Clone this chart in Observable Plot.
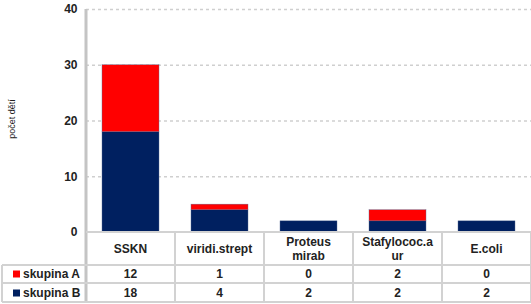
<!DOCTYPE html>
<html>
<head>
<meta charset="utf-8">
<script src="https://cdn.jsdelivr.net/npm/d3@7"></script>
<script src="https://cdn.jsdelivr.net/npm/@observablehq/plot@0.6"></script>
<style>
  html, body { margin: 0; padding: 0; background: #fff; }
  #chart { position: relative; width: 531px; height: 304px; }
</style>
</head>
<body>
<div id="chart"></div>
<script>
const categories = ["SSKN", "viridi.strept", "Proteus mirab", "Stafylococ.a ur", "E.coli"];
const headerLines = [["SSKN"], ["viridi.strept"], ["Proteus", "mirab"], ["Stafylococ.a", "ur"], ["E.coli"]];
const seriesNames = ["skupina A", "skupina B"];
const skupinaA = [12, 1, 0, 2, 0];
const skupinaB = [18, 4, 2, 2, 2];
const seriesColors = ["#ff0000", "#002060"];
const yTicks = [0, 10, 20, 30, 40];
const yLabel = "počet dětí";

// stacked: B at bottom, A on top
const data = [];
categories.forEach((c, i) => {
  data.push({cat: c, series: "skupina B", value: skupinaB[i], order: 0});
  data.push({cat: c, series: "skupina A", value: skupinaA[i], order: 1});
});

const W = 531, H = 304;
const mL = 86, mT = 9, mB = 72;
const font = "'Liberation Sans', Arial, sans-serif";

const chart = Plot.plot({
  width: W,
  height: H,
  marginLeft: mL,
  marginRight: 0,
  marginTop: mT,
  marginBottom: mB,
  style: {fontFamily: font, background: "#fff"},
  x: {domain: categories, paddingInner: 0.36, paddingOuter: 0.18, axis: null},
  y: {domain: [0, 40], ticks: yTicks, axis: null},
  color: {domain: seriesNames, range: seriesColors},
  marks: [
    Plot.ruleY(yTicks.filter(d => d > 0), {stroke: "#cfcfcf", strokeWidth: 1.5, strokeDasharray: "3,3"}),
    Plot.barY(data, Plot.stackY({
      x: "cat", y: "value", fill: "series", order: "order", stroke: "#5a6f96", strokeWidth: 0.4
    })),
    Plot.axisY({ticks: yTicks, tickSize: 0, tickPadding: 9, fontSize: 12, fontWeight: "bold", fill: "#222", label: null})
  ]
});

document.getElementById("chart").appendChild(chart);

// data table below the plot, aligned to the x band scale
const xs = chart.scale("x");
const step = (W - mL) / categories.length;
const svg = d3.select(chart);
const g = svg.append("g").attr("text-anchor", "start");
const lineColor = "#d2d2d2";
const y0 = H - mB;           // 232
const yHead = 265, yA = 283, yB = 302;
const bounds = [mL];
categories.forEach((c, i) => bounds.push(mL + step * (i + 1)));
const centerOf = c => xs.apply(c) + xs.bandwidth / 2;

// y label
g.append("text").attr("transform", "translate(15,119) rotate(-90)")
  .attr("text-anchor", "middle").attr("font-family", font).attr("font-size", 9)
  .attr("fill", "#222").text(yLabel);

// vertical axis line
g.append("line").attr("x1", mL).attr("x2", mL).attr("y1", mT).attr("y2", yB)
  .attr("stroke", "#c4c4c4").attr("stroke-width", 3);
// baseline
g.append("line").attr("x1", mL).attr("x2", W).attr("y1", y0).attr("y2", y0)
  .attr("stroke", lineColor).attr("stroke-width", 2);
// horizontal table lines
[yHead, yA, yB].forEach(y => {
  g.append("line").attr("x1", 2).attr("x2", W).attr("y1", y).attr("y2", y)
    .attr("stroke", lineColor).attr("stroke-width", 2);
});
// vertical table lines
bounds.slice(1).forEach(x => {
  g.append("line").attr("x1", x).attr("x2", x).attr("y1", y0).attr("y2", yB)
    .attr("stroke", lineColor).attr("stroke-width", 2);
});
g.append("line").attr("x1", 2).attr("x2", 2).attr("y1", yHead).attr("y2", yB)
  .attr("stroke", lineColor).attr("stroke-width", 2);

// header labels
categories.forEach((c, i) => {
  const lines = headerLines[i];
  const cy = 249;
  const lh = 14;
  lines.forEach((ln, j) => {
    g.append("text").attr("x", centerOf(c))
      .attr("y", cy + (j - (lines.length - 1) / 2) * lh)
      .attr("dy", "0.35em").attr("text-anchor", "middle")
      .attr("font-family", font).attr("font-size", 12).attr("font-weight", "bold")
      .attr("fill", "#222").text(ln);
  });
});
// rows
const rows = [skupinaA, skupinaB];
const rowCenters = [274, 293];
rows.forEach((vals, r) => {
  g.append("rect").attr("x", 13).attr("y", rowCenters[r] - 3.5).attr("width", 7).attr("height", 7)
    .attr("fill", seriesColors[r]);
  g.append("text").attr("x", 23).attr("y", rowCenters[r]).attr("dy", "0.35em")
    .attr("text-anchor", "start")
    .attr("font-family", font).attr("font-size", 12).attr("font-weight", "bold")
    .attr("fill", "#222").text(seriesNames[r]);
  vals.forEach((v, i) => {
    g.append("text").attr("x", centerOf(categories[i])).attr("y", rowCenters[r]).attr("dy", "0.35em")
      .attr("text-anchor", "middle")
      .attr("font-family", font).attr("font-size", 12).attr("font-weight", "bold")
      .attr("fill", "#222").text(v);
  });
});
</script>
</body>
</html>
